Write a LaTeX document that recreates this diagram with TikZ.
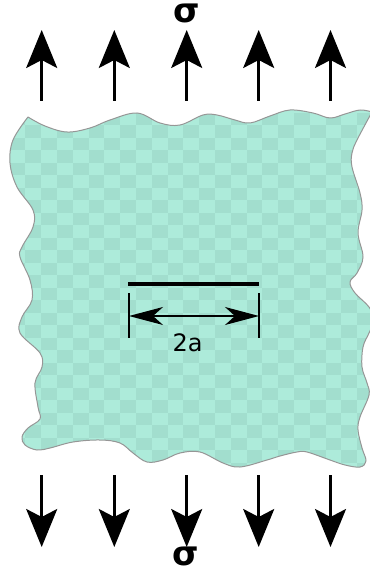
\documentclass[tikz,border=0pt]{standalone}
\usepackage{fontspec}
\setmainfont{DejaVu Sans}
\usetikzlibrary{arrows.meta}

\definecolor{platelight}{RGB}{173,235,218}
\definecolor{platedark}{RGB}{162,222,206}
\definecolor{plateedge}{RGB}{150,150,150}

% outline of the plate (approx, traced)
\newcommand{\plateoutline}{plot[smooth,tension=0.6] coordinates{(28,117) (45,126) (67,132) (90,128) (110,120) (137,113) (160,123) (180,125) (203,115) (217,115) (235,120) (250,123) (270,116) (290,110) (313,113) (330,118) (345,114) (360,110) (372,112)}
	-- plot[smooth,tension=0.6] coordinates{(372,112) (357,140) (352,153) (352,167) (360,193) (362,210) (358,233) (363,257) (357,273) (350,282) (355,293) (369,307) (374,320) (369,333) (363,347) (362,367) (367,383) (369,395) (360,417) (358,430) (362,448) (366,461) (360,467) (345,465) (330,460) (307,452) (297,452) (280,456) (267,460) (240,467) (223,463) (200,452) (180,453) (163,460) (147,462) (133,453) (120,443) (100,440) (73,442) (50,448) (37,450) (25,445) (22,437) (28,428) (40,419) (38,407) (35,383) (42,367) (40,353) (20,333) (22,317) (32,300) (30,280) (20,257) (22,247) (33,227) (33,210) (17,187) (10,163) (13,140) (28,117)} -- cycle}

\begin{document}
\begin{tikzpicture}[x=1pt,y=-1pt,line join=round,
		load/.style={line width=2.6pt,-{Stealth[length=38pt,width=31pt,inset=8pt]}},
		dimline/.style={line width=1.5pt,{Stealth[length=34pt,width=18pt,inset=10pt]}-{Stealth[length=34pt,width=18pt,inset=10pt]}},
		sig/.style={inner sep=0pt,anchor=base,font=\fontsize{34}{40}\selectfont\bfseries}]
	\useasboundingbox (0,0) rectangle (369,572);
	
	% plate
	\fill[platelight] \plateoutline;
	\begin{scope}
		\clip \plateoutline;
		\foreach \i in {0,...,23}
			\foreach \j in {0,...,28}{
				\ifodd\numexpr\i+\j\relax\else
					\fill[platedark] (9.5+15.8*\i,112.7+12.5*\j) rectangle ++(15.8,12.5);
				\fi
			}
	\end{scope}
	\draw[plateedge,line width=1pt] \plateoutline;
	
	% loads
	\foreach \x [count=\k] in {41.7,114.3,186.7,258.7,330.5}{
		\coordinate (ub\k) at (\x,101);
		\coordinate (ut\k) at (\x,30);
		\coordinate (lb\k) at (\x,475);
		\coordinate (lt\k) at (\x,547);
		\draw[load] (ub\k) -- (ut\k);
		\draw[load] (lb\k) -- (lt\k);
	}
	\node[sig] (sigtop) at (187,23) {σ};
	\node[sig] (sigbot) at (186,565.5) {σ};
	
	% crack
	\coordinate (C1) at (128,284);
	\coordinate (C2) at (259,284);
	\draw[line width=3.4pt] (C1) -- (C2);
	
	\coordinate (T1) at (129,293);
	\coordinate (T2) at (129,338);
	\coordinate (T3) at (259,293);
	\coordinate (T4) at (259,338);
	\draw[line width=2pt] (T1) -- (T2);
	\draw[line width=2pt] (T3) -- (T4);
	
	\coordinate (A1) at (129,316);
	\coordinate (A2) at (259,316);
	\draw[dimline] (A1) -- (A2);
	\node[inner sep=0pt,anchor=base,font=\fontsize{24}{29}\selectfont] (len) at (187.5,351) {2a};
\end{tikzpicture}
\end{document}
